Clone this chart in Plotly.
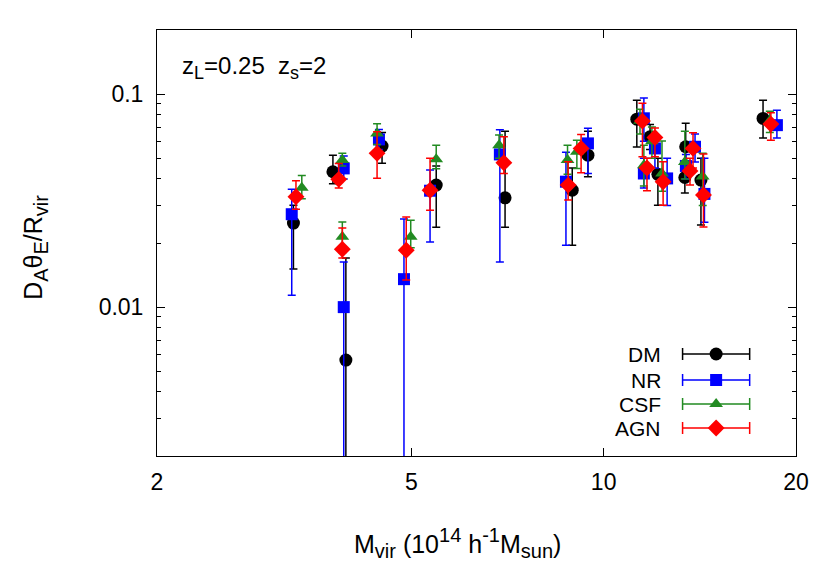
import plotly.graph_objects as go

# halo masses (10^14 h^-1 Msun) and D_A theta_E / R_vir with error bar ends
dm_x = [3.27, 3.77, 3.95, 4.50, 5.47, 7.01, 8.93, 9.45, 11.27, 11.82, 12.16, 13.40, 13.44, 14.20, 17.76]
dm_y = [0.0248, 0.0432, 0.00564, 0.057, 0.0374, 0.0326, 0.0354, 0.0517, 0.0763, 0.063, 0.042, 0.0406, 0.0566, 0.0395, 0.0769]
dm_lo = [0.0151, 0.038, 0.001, 0.0474, 0.0237, 0.0237, 0.0195, 0.0409, 0.0564, 0.055, 0.0301, 0.0343, 0.048, 0.0243, 0.0622]
dm_hi = [0.0301, 0.0517, 0.017, 0.066, 0.046, 0.067, 0.045, 0.067, 0.0937, 0.072, 0.05, 0.047, 0.073, 0.05, 0.0937]

nr_x = [3.25, 3.92, 3.92, 4.45, 4.87, 5.35, 6.88, 8.73, 9.45, 11.56, 12.03, 11.56, 12.57, 13.45, 13.90, 14.38, 18.67]
nr_y = [0.0273, 0.0448, 0.0100, 0.0613, 0.01353, 0.0352, 0.0521, 0.0388, 0.0587, 0.077, 0.0556, 0.0424, 0.0402, 0.046, 0.0566, 0.034, 0.0715]
nr_lo = [0.01138, 0.040, 0.001, 0.055, 0.001, 0.0202, 0.0163, 0.0195, 0.0424, 0.060, 0.045, 0.0362, 0.030, 0.040, 0.048, 0.025, 0.0622]
nr_hi = [0.0358, 0.0512, 0.0163, 0.0683, 0.0259, 0.044, 0.068, 0.0534, 0.0692, 0.0958, 0.064, 0.050, 0.050, 0.052, 0.065, 0.050, 0.0841]

csf_x = [3.37, 3.90, 3.90, 4.42, 4.99, 5.47, 6.86, 8.78, 9.08, 11.40, 11.90, 11.56, 12.34, 13.40, 14.29, 18.20]
csf_y = [0.0363, 0.049, 0.0214, 0.0654, 0.0214, 0.0494, 0.0576, 0.049, 0.0536, 0.075, 0.060, 0.0464, 0.0424, 0.048, 0.041, 0.075]
csf_lo = [0.0323, 0.046, 0.018, 0.058, 0.019, 0.0446, 0.050, 0.042, 0.0448, 0.065, 0.050, 0.037, 0.035, 0.040, 0.030, 0.066]
csf_hi = [0.0415, 0.0528, 0.0251, 0.0725, 0.0256, 0.0576, 0.0642, 0.0576, 0.0608, 0.085, 0.070, 0.0576, 0.0602, 0.067, 0.0528, 0.083]

agn_x = [3.30, 3.85, 3.90, 4.42, 4.91, 5.35, 6.98, 8.80, 9.22, 11.50, 12.03, 11.69, 12.39, 13.80, 13.65, 14.33, 18.27]
agn_y = [0.033, 0.0398, 0.0187, 0.0527, 0.0185, 0.0354, 0.0476, 0.0374, 0.0556, 0.0747, 0.0626, 0.045, 0.0388, 0.0556, 0.0436, 0.0336, 0.0723]
agn_lo = [0.0288, 0.0362, 0.017, 0.0403, 0.0134, 0.0285, 0.0424, 0.0318, 0.0427, 0.0508, 0.0508, 0.0352, 0.0301, 0.045, 0.0374, 0.0238, 0.0608]
agn_hi = [0.0392, 0.0472, 0.0235, 0.0666, 0.0265, 0.050, 0.063, 0.0481, 0.0647, 0.0907, 0.0694, 0.050, 0.0481, 0.0659, 0.050, 0.0523, 0.0817]

x_ticks = [2, 5, 10, 20]
y_ticks = [0.01, 0.1]
y_minor = [0.003, 0.004, 0.005, 0.006, 0.007, 0.008, 0.009,
           0.02, 0.03, 0.04, 0.05, 0.06, 0.07, 0.08, 0.09, 0.2]

FONT = "Liberation Sans"


def sub(s, px=18):
    return "<sub><span style='font-size:%dpx'>%s</span></sub>" % (px, s)


def sup(s, px=18):
    return "<sup><span style='font-size:%dpx'>%s</span></sup>" % (px, s)


series = [
    ("DM", dm_x, dm_y, dm_lo, dm_hi, "black", "circle", 13),
    ("NR", nr_x, nr_y, nr_lo, nr_hi, "#0000ff", "square", 12),
    ("CSF", csf_x, csf_y, csf_lo, csf_hi, "#228b22", "triangle-up", 12),
    ("AGN", agn_x, agn_y, agn_lo, agn_hi, "#ff0000", "diamond", 13),
]

fig = go.Figure()

for name, x, y, lo, hi, color, symbol, size in series:
    fig.add_trace(go.Scatter(
        x=x, y=y, mode='markers', name=name, showlegend=False,
        marker=dict(color=color, symbol=symbol, size=size, line=dict(width=0)),
        error_y=dict(type='data', symmetric=False,
                     array=[h - v for v, h in zip(y, hi)],
                     arrayminus=[v - l for v, l in zip(y, lo)],
                     color=color, thickness=1.5, width=4)
    ))

# gnuplot-style key: label, then a sample bar with caps and the point
key_rows = [0.2394, 0.1784, 0.122, 0.0657]
for (name, x, y, lo, hi, color, symbol, size), ky in zip(series, key_rows):
    fig.add_trace(go.Scatter(
        x=[0.875], y=[ky], mode='markers', xaxis='x2', yaxis='y2', showlegend=False,
        marker=dict(color=color, symbol=symbol, size=size, line=dict(width=0)),
        error_x=dict(type='constant', value=0.0525, color=color, thickness=1.5, width=6),
        hoverinfo='skip'
    ))
    fig.add_annotation(x=0.792, y=ky, xref='paper', yref='paper', text=name,
                       showarrow=False, xanchor='right', yanchor='middle',
                       font=dict(family=FONT, size=21, color='black'))

fig.add_annotation(x=0.036, y=0.912, xref='paper', yref='paper',
                   text="z" + sub("L") + "=0.25  z" + sub("s") + "=2",
                   showarrow=False, xanchor='left', yanchor='middle',
                   font=dict(family=FONT, size=24, color='black'))

fig.add_annotation(x=0.47, y=-0.205, xref='paper', yref='paper',
                   text="M" + sub("vir", 20) + " (10" + sup("14", 20) + " h" + sup("-1", 20)
                        + "M" + sub("sun", 20) + ")",
                   showarrow=False, xanchor='center', yanchor='middle',
                   font=dict(family=FONT, size=25, color='black'))

fig.add_annotation(x=-0.19, y=0.49, xref='paper', yref='paper',
                   text="D" + sub("A", 20) + "θ" + sub("E", 20) + "/R" + sub("vir", 20), textangle=-90,
                   showarrow=False, xanchor='center', yanchor='middle',
                   font=dict(family=FONT, size=25, color='black'))

fig.update_layout(
    width=822, height=576,
    margin=dict(l=149, r=34, t=22, b=128),
    plot_bgcolor='white', paper_bgcolor='white',
    font=dict(family=FONT, size=23, color='black'),
    xaxis=dict(type='log', range=[0.30103, 1.30103],
               tickvals=x_ticks, ticktext=[str(t) for t in x_ticks],
               ticks='inside', ticklen=8, tickwidth=1, tickcolor='black',
               ticklabelstandoff=5,
               showline=True, linecolor='black', linewidth=1, mirror='ticks',
               showgrid=False, zeroline=False),
    yaxis=dict(type='log', range=[-2.69897, -0.69897],
               tickvals=y_ticks, ticktext=["0.01", "0.1"],
               ticks='inside', ticklen=8, tickwidth=1, tickcolor='black',
               ticklabelstandoff=8,
               minor=dict(tickvals=y_minor, ticks='inside', ticklen=4, tickcolor='black'),
               showline=True, linecolor='black', linewidth=1, mirror='ticks',
               showgrid=False, zeroline=False),
    xaxis2=dict(overlaying='x', range=[0, 1], visible=False, fixedrange=True),
    yaxis2=dict(overlaying='y', range=[0, 1], visible=False, fixedrange=True),
)

fig.write_html("out.html")
